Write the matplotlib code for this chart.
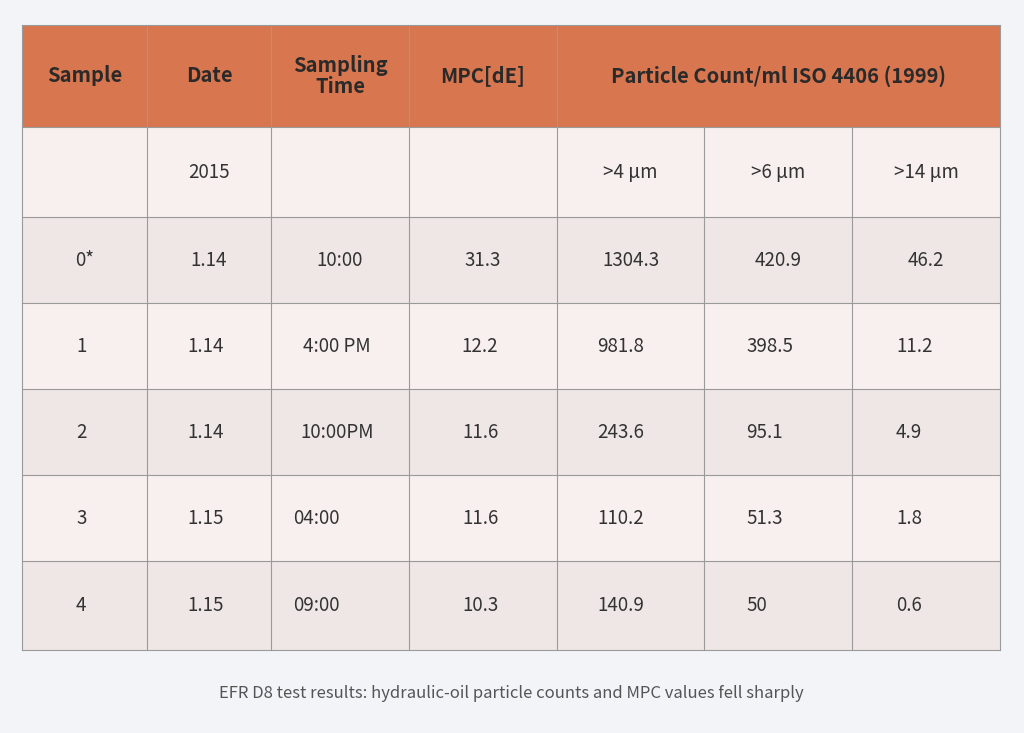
import matplotlib
matplotlib.use("Agg")
import matplotlib.pyplot as plt
from matplotlib.patches import Rectangle

plt.rcParams['font.family'] = ['Noto Sans CJK SC', 'DejaVu Sans']

headers = ["Sample", "Date", "Sampling\nTime", "MPC[dE]", "Particle Count/ml ISO 4406 (1999)"]
subheader = ["", "2015", "", "", ">4 µm", ">6 µm", ">14 µm"]
samples = ["0*", "1", "2", "3", "4"]
dates = ["1.14", "1.14", "1.14", "1.15", "1.15"]
times = ["10:00", "4:00 PM", "10:00PM", "04:00", "09:00"]
mpc = ["31.3", "12.2", "11.6", "11.6", "10.3"]
gt4 = ["1304.3", "981.8", "243.6", "110.2", "140.9"]
gt6 = ["420.9", "398.5", "95.1", "51.3", "50"]
gt14 = ["46.2", "11.2", "4.9", "1.8", "0.6"]
caption = "EFR D8 test results: hydraulic-oil particle counts and MPC values fell sharply"

colx = [22, 147, 271, 409, 557, 704, 852, 1000]
rowy = [25, 127, 217, 303, 389, 475, 561, 650]
header_c = "#D8764F"
light = "#F8F0EE"
grey = "#EEE7E5"
line_c = "#9A9A9A"
txt_c = "#333333"

fig = plt.figure(figsize=(10.24, 7.33), dpi=100)
fig.patch.set_facecolor("#F3F4F7")
ax = fig.add_axes([0, 0, 1, 1])
ax.set_xlim(0, 1024); ax.set_ylim(733, 0); ax.axis("off")

# backgrounds
ax.add_patch(Rectangle((colx[0], rowy[0]), colx[-1]-colx[0], rowy[1]-rowy[0], fc=header_c, ec="none"))
for r in range(6):
    c = light if r % 2 == 0 else grey
    ax.add_patch(Rectangle((colx[0], rowy[r+1]), colx[-1]-colx[0], rowy[r+2]-rowy[r+1], fc=c, ec="none"))

# grid lines
for y in rowy:
    ax.plot([colx[0], colx[-1]], [y, y], color=line_c, lw=0.8)
for i, x in enumerate(colx):
    if i in (5, 6):
        ax.plot([x, x], [rowy[1], rowy[-1]], color=line_c, lw=0.8)
    else:
        ax.plot([x, x], [rowy[0], rowy[-1]], color=line_c, lw=0.8)

# header
hx = [(colx[0]+colx[1])/2, (colx[1]+colx[2])/2, (colx[2]+colx[3])/2, (colx[3]+colx[4])/2, (colx[4]+colx[7])/2]
for x, t in zip(hx, headers):
    ax.text(x, (rowy[0]+rowy[1])/2, t, ha="center", va="center", fontsize=14.5,
            fontweight="bold", color="#2a2a2a", linespacing=1.05)

def cx(i):
    return (colx[i]+colx[i+1])/2

ym = (rowy[1]+rowy[2])/2
for i, t in enumerate(subheader):
    if t:
        ax.text(cx(i), ym, t, ha="center", va="center", fontsize=13.5, color=txt_c)

cols = [samples, dates, times, mpc, gt4, gt6, gt14]
for r in range(5):
    y = (rowy[r+2]+rowy[r+3])/2
    for i, col in enumerate(cols):
        t = col[r]
        if r == 0:
            ax.text(cx(i), y, t, ha="center", va="center", fontsize=13.5, color=txt_c)
        elif i == 2 and r >= 3:
            ax.text(colx[i]+22, y, t, ha="left", va="center", fontsize=13.5, color=txt_c)
        elif i >= 4:
            off = [40, 42, 44][i-4]
            ax.text(colx[i]+off, y, t, ha="left", va="center", fontsize=13.5, color=txt_c)
        elif i == 0:
            ax.text(colx[0]+54, y, t, ha="left", va="center", fontsize=13.5, color=txt_c)
        else:
            ax.text(cx(i)-3, y, t, ha="center", va="center", fontsize=13.5, color=txt_c)

ax.text(511, 693, caption, ha="center", va="center", fontsize=12, style="italic", color="#555555")

fig.savefig("out.png", dpi=100, facecolor=fig.get_facecolor())
